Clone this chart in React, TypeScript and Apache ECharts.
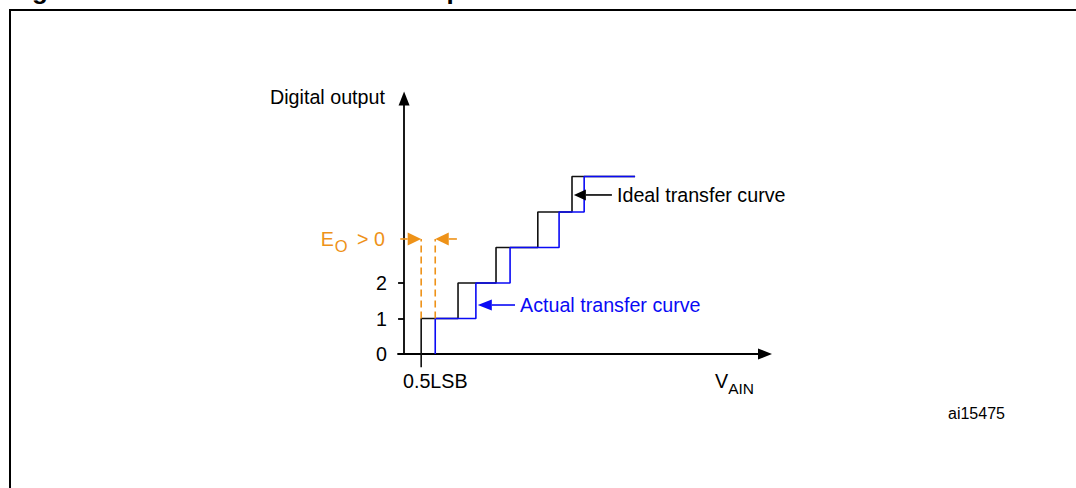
import React, { useEffect, useRef } from "react";
import * as echarts from "echarts";

// ---- data (x in LSB, y in output codes) ----
const idealSteps = [0.45, 1.42, 2.42, 3.52, 4.42]; // code transitions of the ideal curve
const actualSteps = [0.82, 1.89, 2.79, 4.08, 4.74]; // code transitions of the actual curve
const idealStartY = -0.37; // ideal curve starts below the axis (0.5LSB mark)
const actualStartY = 0;
const curveEnd = 6.08;
const yTickValues = [0, 1, 2];
const offsetLevel = 3.24; // level of the E_O > 0 annotation
const offsetDashX = [0.45, 0.82];
const offsetArrows = [
  [-0.1, 3.24, 0.45, 3.24],
  [1.39, 3.24, 0.82, 3.24],
];
const idealPointer = [[5.47, 4.48, 4.47, 4.48]];
const actualPointer = [[2.92, 1.38, 1.94, 1.38]];

const FONT = '"Liberation Sans", Arial, Helvetica, sans-serif';
const BLUE = "#0a0af5";
const ORANGE = "#ee9218";
const BLACK = "#111111";

function stepPoints(steps: number[], startY: number, end: number) {
  const pts: number[][] = [[steps[0], startY]];
  steps.forEach((s, i) => {
    if (i > 0) pts.push([s, i]);
    pts.push([s, i + 1]);
  });
  pts.push([end, steps.length]);
  return pts;
}

function arrowRender(headLen: number, headHalf: number) {
  return (params: any, api: any) => {
    const a = api.coord([api.value(0), api.value(1)]);
    const b = api.coord([api.value(2), api.value(3)]);
    const dx = b[0] - a[0];
    const dy = b[1] - a[1];
    const len = Math.hypot(dx, dy) || 1;
    const ux = dx / len;
    const uy = dy / len;
    const bx = b[0] - ux * headLen;
    const by = b[1] - uy * headLen;
    const color = api.visual("color");
    return {
      type: "group",
      children: [
        {
          type: "line",
          shape: { x1: a[0], y1: a[1], x2: bx, y2: by },
          style: { stroke: color, lineWidth: 1.6 },
        },
        {
          type: "polygon",
          shape: {
            points: [
              [b[0], b[1]],
              [bx - uy * headHalf, by + ux * headHalf],
              [bx + uy * headHalf, by - ux * headHalf],
            ],
          },
          style: { fill: color },
        },
      ],
    };
  };
}

function txt(text: string, x: number, y: number, extra: any = {}) {
  return {
    type: "text",
    x,
    y,
    style: {
      text,
      fill: "#000",
      fontSize: 19.7,
      fontFamily: FONT,
      align: "left",
      verticalAlign: "middle",
      textAlign: "left",
      textVerticalAlign: "middle",
      ...extra,
    },
  };
}

export default function App() {
  const ref = useRef<HTMLDivElement>(null);

  useEffect(() => {
    document.body.style.margin = "0";
    if (!ref.current) return;
    const chart = echarts.init(ref.current, null, { renderer: "svg" });

    const option: any = {
      animation: false,
      backgroundColor: "#ffffff",
      grid: {
        left: 398,
        right: 311,
        top: 98.4,
        bottom: 134,
        containLabel: false,
        outerBoundsMode: "none",
      },
      xAxis: {
        type: "value",
        min: -0.16,
        max: 9.5,
        axisLine: {
          show: true,
          onZero: true,
          symbol: ["none", "triangle"],
          symbolSize: [11, 14],
          lineStyle: { color: "#000", width: 1.8 },
        },
        axisTick: { show: false },
        axisLabel: { show: false },
        splitLine: { show: false },
      },
      yAxis: {
        type: "value",
        min: 0,
        max: 7.2,
        axisLine: {
          show: true,
          onZero: true,
          symbol: ["none", "triangle"],
          symbolSize: [11, 14],
          lineStyle: { color: "#000", width: 1.8 },
        },
        axisTick: {
          show: true,
          customValues: yTickValues,
          length: 6,
          lineStyle: { color: "#000", width: 1.8 },
        },
        axisLabel: {
          show: true,
          customValues: yTickValues,
          margin: 11,
          fontSize: 19.7,
          fontFamily: FONT,
          color: "#000",
        },
        splitLine: { show: false },
      },
      series: [
        {
          name: "Ideal transfer curve",
          type: "line",
          data: stepPoints(idealSteps, idealStartY, curveEnd),
          symbol: "none",
          showSymbol: false,
          clip: false,
          lineStyle: { color: BLACK, width: 1.6 },
          z: 2,
        },
        {
          name: "Actual transfer curve",
          type: "line",
          data: stepPoints(actualSteps, actualStartY, curveEnd),
          symbol: "none",
          showSymbol: false,
          clip: false,
          lineStyle: { color: BLUE, width: 1.6 },
          z: 3,
        },
        {
          name: "offset dashes",
          type: "custom",
          data: offsetDashX.map((x) => [x, 1, offsetLevel]),
          itemStyle: { color: ORANGE },
          renderItem: (params: any, api: any) => {
            const a = api.coord([api.value(0), api.value(1)]);
            const b = api.coord([api.value(0), api.value(2)]);
            return {
              type: "line",
              shape: { x1: a[0], y1: a[1], x2: b[0], y2: b[1] },
              style: { stroke: ORANGE, lineWidth: 1.6, lineDash: [7, 4] },
            };
          },
          z: 4,
        },
        {
          name: "offset arrows",
          type: "custom",
          data: offsetArrows,
          itemStyle: { color: ORANGE },
          renderItem: arrowRender(13.5, 6.5),
          z: 5,
        },
        {
          name: "ideal pointer",
          type: "custom",
          data: idealPointer,
          itemStyle: { color: "#000" },
          renderItem: arrowRender(12, 5.5),
          z: 5,
        },
        {
          name: "actual pointer",
          type: "custom",
          data: actualPointer,
          itemStyle: { color: BLUE },
          renderItem: arrowRender(14, 5.5),
          z: 5,
        },
      ],
      graphic: [
        {
          type: "rect",
          shape: { x: 10, y: 10, width: 1300, height: 700 },
          style: { fill: "none", stroke: "#000", lineWidth: 2 },
        },
        txt("Figure 30.", 9, -10.5, { fontSize: 26, fontWeight: "bold" }),
        txt("Positive offset error representation", 169, -10.5, {
          fontSize: 26,
          fontWeight: "bold",
        }),
        txt("Digital output", 270, 97),
        txt("Ideal transfer curve", 617, 195),
        txt("Actual transfer curve", 520, 305, { fill: BLUE }),
        txt("0.5LSB", 403, 381),
        txt("ai15475", 948, 413, { fontSize: 16 }),
        txt("{v|V}{s|AIN}", 715, 381, {
          rich: {
            v: { fontSize: 19.7, fontFamily: FONT, lineHeight: 30, fill: "#000", verticalAlign: "middle" },
            s: { fontSize: 15.5, fontFamily: FONT, lineHeight: 18, fill: "#000", verticalAlign: "bottom" },
          },
        }),
        txt("{e|E}{s|O}{e| > 0}", 385, 239, {
          align: "right",
          textAlign: "right",
          rich: {
            e: { fontSize: 19.7, fontFamily: FONT, lineHeight: 30, fill: ORANGE, verticalAlign: "middle" },
            s: {
              fontSize: 16.5,
              fontFamily: FONT,
              lineHeight: 18,
              fill: ORANGE,
              verticalAlign: "bottom",
              padding: [0, 4, 0, 1],
            },
          },
        }),
      ],
    };

    chart.setOption(option);
    return () => {
      chart.dispose();
    };
  }, []);

  return <div ref={ref} style={{ width: 1076, height: 488 }} />;
}
